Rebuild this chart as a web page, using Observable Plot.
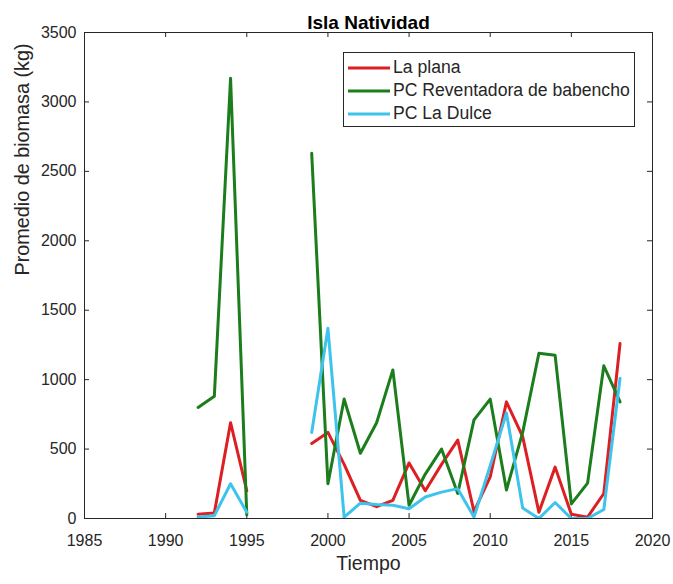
<!DOCTYPE html>
<html>
<head>
<meta charset="utf-8">
<script src="https://cdn.jsdelivr.net/npm/d3@7"></script>
<script src="https://cdn.jsdelivr.net/npm/@observablehq/plot@0.6"></script>
<style>
  html, body { margin: 0; padding: 0; background: #fff; }
  #chart { position: relative; width: 673px; height: 584px; font-family: "Liberation Sans", Arial, Helvetica, sans-serif; color: #262626; }
  .legend { position: absolute; left: 343px; top: 52px; width: 292px; height: 75px; box-sizing: border-box; border: 1px solid #262626; background: #fff; padding-top: 3px; }
  .legend .item { display: flex; align-items: center; height: 23px; font-size: 17.6px; white-space: nowrap; }
  .legend svg { margin-left: 4px; margin-right: 3px; }
</style>
</head>
<body>
<div id="chart"></div>
<script>
// Mean biomass (kg) per year at Isla Natividad; null marks the years without surveys.
const years = [1992, 1993, 1994, 1995, 1996, 1997, 1998, 1999, 2000, 2001, 2002, 2003, 2004, 2005,
               2006, 2007, 2008, 2009, 2010, 2011, 2012, 2013, 2014, 2015, 2016, 2017, 2018];
const laPlana =     [30, 40, 690, 200, null, null, null, 540, 620, 390, 130, 85, 130, 400,
                     200, 390, 565, 50, 300, 840, 590, 45, 370, 30, 10, 180, 1260];
const reventadora = [800, 880, 3170, 25, null, null, null, 2630, 250, 860, 470, 690, 1070, 95,
                     320, 500, 180, 710, 860, 205, 620, 1190, 1175, 105, 255, 1100, 840];
const laDulce =     [10, 20, 250, 45, null, null, null, 620, 1370, 10, 110, 100, 95, 70,
                     155, 190, 215, 10, 380, 760, 75, 0, 115, 0, 0, 65, 1010];

const seriesNames = ["La plana", "PC Reventadora de babencho", "PC La Dulce"];
const seriesColors = ["#dc1f22", "#1b7d1b", "#3ec4ec"];
const seriesValues = [laPlana, reventadora, laDulce];

const xTicks = [1985, 1990, 1995, 2000, 2005, 2010, 2015, 2020];
const yTicks = [0, 500, 1000, 1500, 2000, 2500, 3000, 3500];

const W = 673, H = 584;
const mL = 84, mR = 21, mT = 32, mB = 66;
const frameW = W - mL - mR, frameH = H - mT - mB;
const tickLen = 5;
const ink = "#262626";

const lineMarks = seriesValues.map((vals, s) =>
  Plot.lineY(years.map((year, i) => ({year, value: vals[i]})), {
    x: "year", y: "value", stroke: seriesColors[s], strokeWidth: 3, clip: true
  })
);

const plot = Plot.plot({
  width: W, height: H,
  marginLeft: mL, marginRight: mR, marginTop: mT, marginBottom: mB,
  style: {fontFamily: "'Liberation Sans', Arial, Helvetica, sans-serif", fontSize: "16px", color: ink, background: "#fff"},
  x: {domain: [1985, 2020]},
  y: {domain: [0, 3500]},
  marks: [
    Plot.axisX(xTicks, {tickSize: 0, tickPadding: 16, tickFormat: d => String(d), label: null, fill: ink}),
    Plot.axisY(yTicks, {tickSize: 0, tickPadding: 8, tickFormat: d => String(d), label: null, fill: ink}),
    // inward tick marks on all four sides of the box
    Plot.ruleX(xTicks, {x: d => d, insetTop: frameH - tickLen, stroke: ink}),
    Plot.ruleX(xTicks, {x: d => d, insetBottom: frameH - tickLen, stroke: ink}),
    Plot.ruleY(yTicks, {y: d => d, insetRight: frameW - tickLen, stroke: ink}),
    Plot.ruleY(yTicks, {y: d => d, insetLeft: frameW - tickLen, stroke: ink}),
    ...lineMarks,
    Plot.frame({stroke: ink}),
    Plot.text(["Isla Natividad"], {text: d => d, frameAnchor: "top", dy: -17, fontWeight: "bold", fontSize: 19, fill: "#000"}),
    Plot.text(["Tiempo"], {text: d => d, frameAnchor: "bottom", dy: 51, fontSize: 19.5, fill: ink}),
    Plot.text(["Promedio de biomasa (kg)"], {text: d => d, frameAnchor: "left", dx: -62, rotate: -90, fontSize: 19.8, fill: ink})
  ]
});

const chart = document.getElementById("chart");
chart.appendChild(plot);

// legend box inside the upper right of the axes
const legend = document.createElement("div");
legend.className = "legend";
seriesNames.forEach((name, s) => {
  const item = document.createElement("div");
  item.className = "item";
  item.innerHTML = `<svg width="42" height="6"><line x1="0" x2="42" y1="3" y2="3" stroke="${seriesColors[s]}" stroke-width="3"/></svg><span>${name}</span>`;
  legend.appendChild(item);
});
chart.appendChild(legend);
</script>
</body>
</html>
